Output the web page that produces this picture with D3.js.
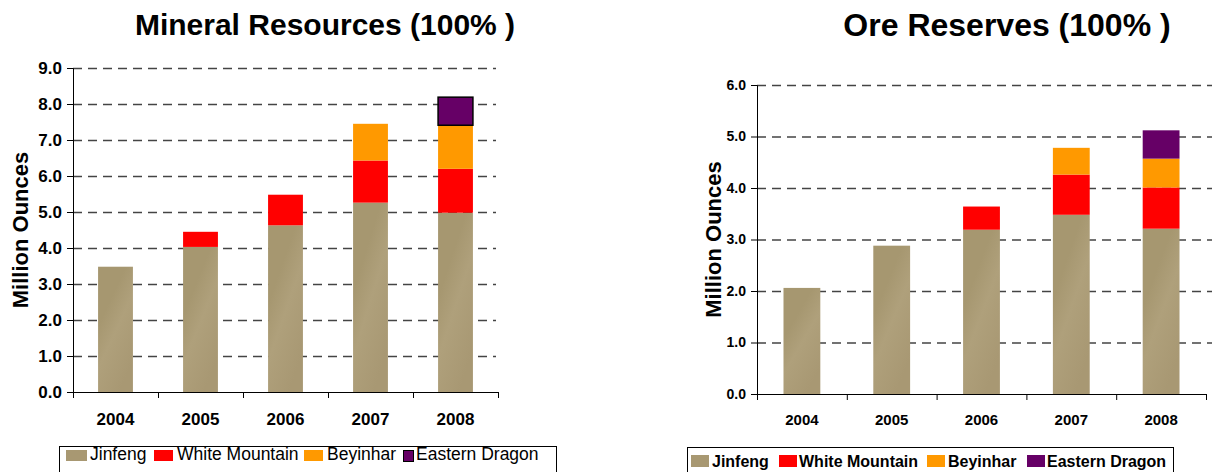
<!DOCTYPE html>
<html>
<head>
<meta charset="utf-8">
<script src="https://cdn.jsdelivr.net/npm/d3@7"></script>
<style>
  body { margin: 0; background: #fff; }
  svg { display: block; font-family: Arial, "Liberation Sans", sans-serif; }
</style>
</head>
<body>
<svg id="chart" width="1212" height="472"></svg>
<script>
// Categories and series
const years = ["2004", "2005", "2006", "2007", "2008"];
const seriesNames = ["Jinfeng", "White Mountain", "Beyinhar", "Eastern Dragon"];
const seriesColors = ["#A69770", "#FF0000", "#FF9900", "#660066"];

// Mineral resources (Moz), per series, per year
const resJinfeng = [3.48, 4.03, 4.63, 5.26, 4.98];
const resWhiteMountain = [0, 0.42, 0.85, 1.17, 1.22];
const resBeyinhar = [0, 0, 0, 1.02, 1.21];
const resEasternDragon = [0, 0, 0, 0, 0.78];
const resTicks = [0, 1, 2, 3, 4, 5, 6, 7, 8, 9];

// Ore reserves (Moz)
const orJinfeng = [2.06, 2.88, 3.19, 3.48, 3.21];
const orWhiteMountain = [0, 0, 0.45, 0.78, 0.80];
const orBeyinhar = [0, 0, 0, 0.52, 0.56];
const orEasternDragon = [0, 0, 0, 0, 0.55];
const orTicks = [0, 1, 2, 3, 4, 5, 6];

const svg = d3.select("#chart");

// gradient giving the gold bars their lighter lower-left sheen
const defs = svg.append("defs");
const grad = defs.append("linearGradient")
  .attr("id", "gold")
  .attr("x1", "0").attr("y1", "0").attr("x2", "0.6").attr("y2", "1");
grad.append("stop").attr("offset", "0.35").attr("stop-color", "#A69770");
grad.append("stop").attr("offset", "0.6").attr("stop-color", "#AFA07B");
grad.append("stop").attr("offset", "1").attr("stop-color", "#A89873");

const buildRows = (s0, s1, s2, s3) =>
  years.map((y, i) => ({
    year: y,
    "Jinfeng": s0[i],
    "White Mountain": s1[i],
    "Beyinhar": s2[i],
    "Eastern Dragon": s3[i],
  }));

const drawPanel = (cfg) => {
  const g = svg.append("g");
  const rows = buildRows(...cfg.series);
  const stacked = d3.stack().keys(seriesNames)(rows);

  const x = d3.scaleBand().domain(years).range([cfg.left, cfg.right]).padding(0);
  const y = d3.scaleLinear().domain([0, cfg.max]).range([cfg.bottom, cfg.top]);
  const barW = x.bandwidth() * cfg.barFrac;

  // dashed grid
  g.append("g")
    .selectAll("line")
    .data(cfg.ticks.filter((t) => t > 0))
    .join("line")
    .attr("x1", cfg.left)
    .attr("x2", cfg.gridEnd)
    .attr("y1", (d) => y(d) + 0.5)
    .attr("y2", (d) => y(d) + 0.5)
    .attr("stroke", "#444")
    .attr("stroke-width", 1.3)
    .attr("stroke-dasharray", "9,6");

  // bars
  stacked.forEach((layer, si) => {
    g.append("g")
      .selectAll("rect")
      .data(layer.filter((d) => d[1] - d[0] > 0))
      .join("rect")
      .attr("x", (d) => x(d.data.year) + (x.bandwidth() - barW) / 2)
      .attr("y", (d) => y(d[1]))
      .attr("width", barW)
      .attr("height", (d) => y(d[0]) - y(d[1]))
      .attr("fill", si === 0 ? "url(#gold)" : seriesColors[si])
      .attr("stroke", si === 3 && cfg.edStroke ? "#000" : "none")
      .attr("stroke-width", 1.5);
  });

  // y axis
  const yAxis = g.append("g")
    .attr("transform", `translate(${cfg.left},0)`)
    .call(d3.axisLeft(y).tickValues(cfg.ticks).tickFormat(d3.format(".1f")).tickSize(6).tickPadding(5));
  yAxis.select(".domain").attr("stroke", "#000");
  yAxis.selectAll("text")
    .attr("font-size", cfg.tickFont)
    .attr("font-weight", "bold")
    .attr("fill", "#000")
    .attr("font-family", "Arial, 'Liberation Sans', sans-serif");

  // x axis with ticks at category boundaries
  g.append("line")
    .attr("x1", cfg.left).attr("x2", cfg.right)
    .attr("y1", cfg.bottom + 0.5).attr("y2", cfg.bottom + 0.5)
    .attr("stroke", "#000");
  g.append("g")
    .selectAll("line")
    .data(years.concat(["end"]))
    .join("line")
    .attr("x1", (d) => (d === "end" ? cfg.right : x(d)) + 0.5)
    .attr("x2", (d) => (d === "end" ? cfg.right : x(d)) + 0.5)
    .attr("y1", cfg.bottom)
    .attr("y2", cfg.bottom + 6)
    .attr("stroke", "#000");
  g.append("g")
    .selectAll("text")
    .data(years)
    .join("text")
    .attr("x", (d) => x(d) + x.bandwidth() / 2)
    .attr("y", cfg.catY)
    .attr("text-anchor", "middle")
    .attr("font-size", cfg.catFont)
    .attr("font-weight", "bold")
    .text((d) => d);

  // y label
  g.append("text")
    .attr("transform", `translate(${cfg.yLabelX},${(cfg.top + cfg.bottom) / 2}) rotate(-90)`)
    .attr("text-anchor", "middle")
    .attr("font-size", cfg.yLabelFont)
    .attr("font-weight", "bold")
    .text("Million Ounces");

  // title
  g.append("text")
    .attr("x", cfg.titleX)
    .attr("y", cfg.titleY)
    .attr("text-anchor", "middle")
    .attr("font-size", cfg.titleFont)
    .attr("font-weight", "bold")
    .text(cfg.title);

  // legend (item x positions)
  const L = cfg.legend;
  const lg = g.append("g");
  lg.append("rect")
    .attr("x", L.x + 0.5)
    .attr("y", L.y + 0.5)
    .attr("width", L.w)
    .attr("height", 40)
    .attr("fill", "#fff")
    .attr("stroke", "#000");
  seriesNames.forEach((name, i) => {
    const sw = L.swW[i];
    lg.append("rect")
      .attr("x", L.swX[i] + (i === 3 && cfg.edStroke ? 0.5 : 0))
      .attr("y", L.swY + (i === 3 && cfg.edStroke ? 0.5 : 0))
      .attr("width", sw)
      .attr("height", L.swH)
      .attr("fill", i === 0 ? "#A89872" : seriesColors[i])
      .attr("stroke", i === 3 && cfg.edStroke ? "#000" : "none");
    lg.append("text")
      .attr("x", L.textX[i])
      .attr("y", L.base)
      .attr("font-size", L.font)
      .attr("font-weight", L.bold ? "bold" : "normal")
      .text(name);
  });
};

drawPanel({
  series: [resJinfeng, resWhiteMountain, resBeyinhar, resEasternDragon],
  ticks: resTicks,
  max: 9,
  left: 73, right: 498, gridEnd: 496,
  top: 68, bottom: 392,
  barFrac: 0.41,
  edStroke: true,
  tickFont: 17, catFont: 17, catY: 425,
  yLabelX: 28, yLabelFont: 22,
  title: "Mineral Resources (100% )", titleX: 325, titleY: 35, titleFont: 30,
  legend: {
    x: 59, y: 446, w: 497, font: 17.5, bold: false,
    swX: [66, 154, 304, 403], swW: [21, 19, 19, 10], swY: 450, swH: 11,
    textX: [90, 177, 327, 416], base: 460,
  },
});

drawPanel({
  series: [orJinfeng, orWhiteMountain, orBeyinhar, orEasternDragon],
  ticks: orTicks,
  max: 6,
  left: 757, right: 1206, gridEnd: 1212,
  top: 85, bottom: 394,
  barFrac: 0.41,
  edStroke: false,
  tickFont: 14, catFont: 15, catY: 425,
  yLabelX: 721, yLabelFont: 22,
  title: "Ore Reserves (100% )", titleX: 1007, titleY: 36, titleFont: 32,
  legend: {
    x: 687, y: 447, w: 486, font: 16, bold: true,
    swX: [691, 779, 927, 1027], swW: [18, 18, 18, 18], swY: 455, swH: 12,
    textX: [712, 799, 948, 1047], base: 467,
  },
});
</script>
</body>
</html>
